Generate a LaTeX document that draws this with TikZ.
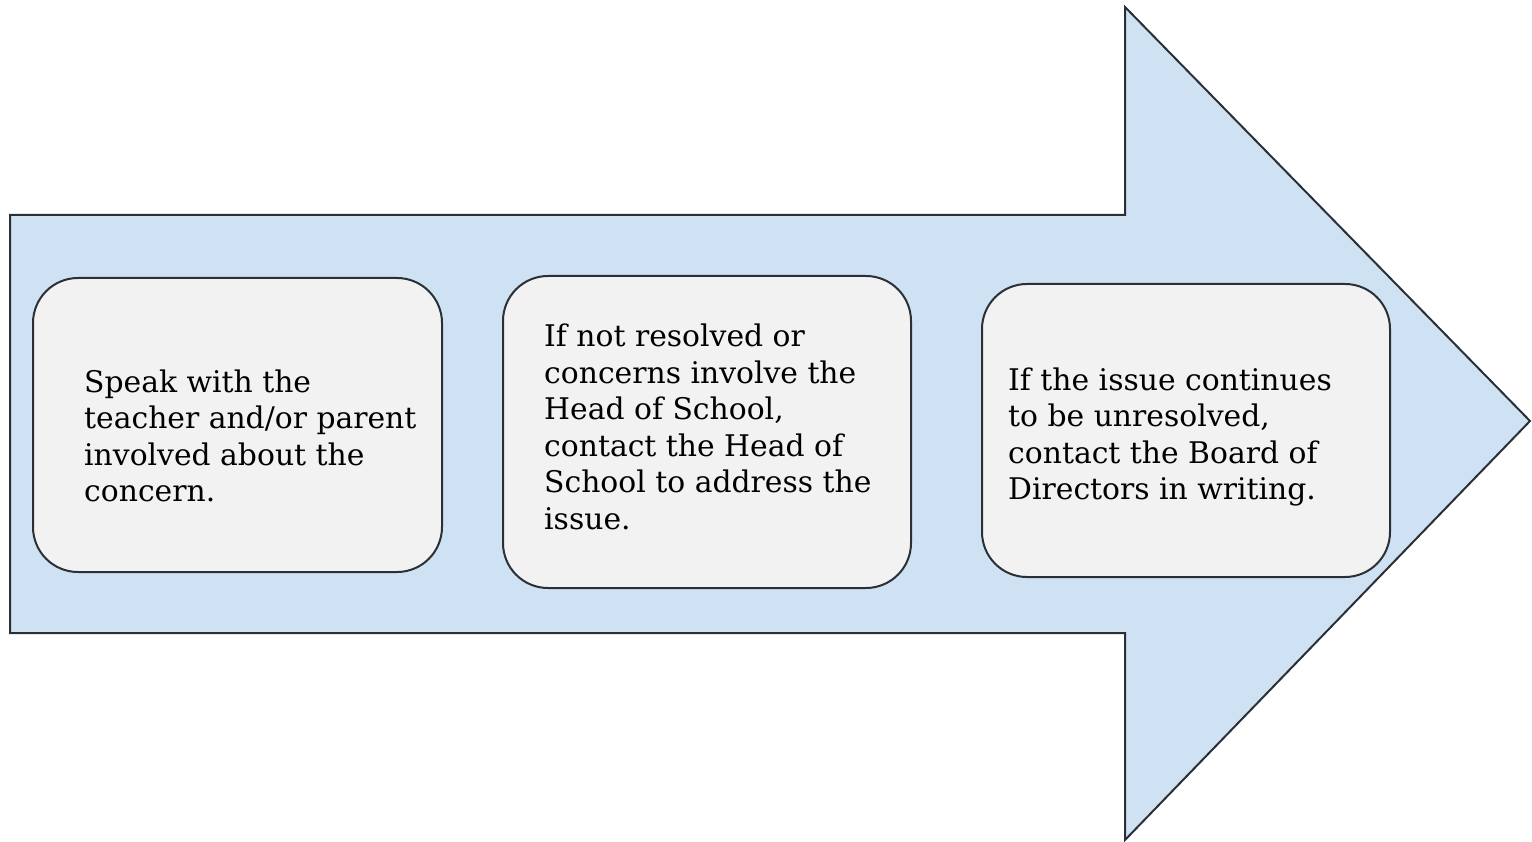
\documentclass[tikz,border=0pt]{standalone}
\usepackage{fontspec}
\setmainfont{DejaVu Serif}
\definecolor{arrowfill}{HTML}{CFE2F3}
\definecolor{boxfill}{HTML}{F2F2F2}
\definecolor{edge}{HTML}{2B2F36}
\begin{document}
\begin{tikzpicture}[x=1pt,y=-1pt,
  stepbox/.style={draw=edge,line width=2pt,fill=boxfill,rounded corners=45pt},
  steptext/.style={anchor=west,align=left,inner sep=0pt,text=black,
    font=\fontsize{29.8}{36.5}\selectfont}]
\useasboundingbox (0,0) rectangle (1532,842);
\draw[draw=edge,line width=2pt,fill=arrowfill]
  (10,215) -- (1125,215) -- (1125,7) -- (1530,421) -- (1125,840) -- (1125,633) -- (10,633) -- cycle;
\draw[stepbox] (33,278) rectangle (442,572);
\draw[stepbox] (503,276) rectangle (911,588);
\draw[stepbox] (982,284) rectangle (1390,577);
\node[steptext] (t1) at (84,436) {Speak with the\\teacher and/or parent\\involved about the\\concern.};
\node[steptext] (t2) at (544,427) {If not resolved or\\concerns involve the\\Head of School,\\contact the Head of\\School to address the\\issue.};
\node[steptext] (t3) at (1008,437) {If the issue continues\\to be unresolved,\\contact the Board of\\Directors in writing.};
\end{tikzpicture}
\end{document}
